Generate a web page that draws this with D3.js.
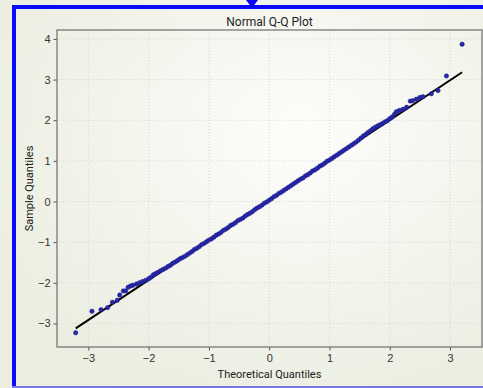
<!DOCTYPE html>
<html>
<head>
<meta charset="utf-8">
<style>
body { margin: 0; padding: 0; overflow: hidden; }
svg { display: block; font-family: Roboto, "Noto Sans", sans-serif; }
.grid line { stroke: #d6d6d6; stroke-width: 1; stroke-dasharray: 1,2; }
.axis path { display: none; }
.axis line { stroke: #555; }
.axis text { fill: #333; font-size: 11px; }
</style>
</head>
<body>
<svg width="483" height="388"></svg>
<script src="https://d3js.org/d3.v7.min.js"></script>
<script>
// theoretical quantiles
var theoretical = [
  -3.21, -2.94, -2.79, -2.68, -2.60, -2.52, -2.48, -2.42, -2.38, -2.34, -2.30, -2.26, -2.20, -2.15, -2.10, -2.05,
  -2.00, -1.96, -1.92, -1.88, -1.84, -1.80, -1.76, -1.72, -1.68, -1.64, -1.60, -1.56, -1.52, -1.48, -1.44, -1.40,
  -1.36, -1.32, -1.28, -1.24, -1.20, -1.16, -1.12, -1.08, -1.04, -1.00, -0.96, -0.92, -0.88, -0.84, -0.80, -0.76,
  -0.72, -0.68, -0.64, -0.60, -0.56, -0.52, -0.48, -0.44, -0.40, -0.36, -0.32, -0.28, -0.24, -0.20, -0.16, -0.12,
  -0.08, -0.04, 0.00, 0.04, 0.08, 0.12, 0.16, 0.20, 0.24, 0.28, 0.32, 0.36, 0.40, 0.44, 0.48, 0.52,
  0.56, 0.60, 0.64, 0.68, 0.72, 0.76, 0.80, 0.84, 0.88, 0.92, 0.96, 1.00, 1.04, 1.08, 1.12, 1.16,
  1.20, 1.24, 1.28, 1.32, 1.36, 1.40, 1.44, 1.48, 1.52, 1.56, 1.60, 1.64, 1.68, 1.72, 1.76, 1.80,
  1.84, 1.88, 1.92, 1.96, 2.00, 2.04, 2.08, 2.11, 2.16, 2.22, 2.28, 2.34, 2.38, 2.44, 2.50, 2.55,
  2.69, 2.80, 2.94, 3.20
];
// sample quantiles, same order
var sample = [
  -3.23, -2.70, -2.66, -2.61, -2.48, -2.43, -2.30, -2.20, -2.20, -2.11, -2.08, -2.06, -2.03, -2.00, -1.97, -1.94,
  -1.90, -1.86, -1.80, -1.77, -1.74, -1.70, -1.67, -1.64, -1.60, -1.57, -1.52, -1.49, -1.45, -1.41, -1.38, -1.35,
  -1.31, -1.27, -1.23, -1.18, -1.15, -1.11, -1.06, -1.03, -0.99, -0.95, -0.92, -0.88, -0.83, -0.80, -0.76, -0.71,
  -0.68, -0.64, -0.59, -0.56, -0.52, -0.47, -0.44, -0.41, -0.36, -0.32, -0.29, -0.25, -0.20, -0.16, -0.13, -0.09,
  -0.04, -0.01, 0.03, 0.07, 0.12, 0.15, 0.20, 0.23, 0.27, 0.31, 0.35, 0.39, 0.43, 0.47, 0.51, 0.55,
  0.58, 0.63, 0.66, 0.70, 0.75, 0.78, 0.82, 0.87, 0.90, 0.94, 0.99, 1.02, 1.06, 1.10, 1.14, 1.18,
  1.22, 1.26, 1.30, 1.34, 1.38, 1.42, 1.46, 1.51, 1.56, 1.61, 1.65, 1.70, 1.74, 1.79, 1.83, 1.86,
  1.89, 1.92, 1.96, 1.99, 2.04, 2.08, 2.15, 2.21, 2.24, 2.27, 2.32, 2.47, 2.48, 2.52, 2.56, 2.58,
  2.65, 2.73, 3.09, 3.87
];
// fitted reference line endpoints
var lineX = [-3.21, 3.20];
var lineY = [-3.12, 3.18];
var xTicks = [-3, -2, -1, 0, 1, 2, 3];
var yTicks = [-3, -2, -1, 0, 1, 2, 3, 4];

var svg = d3.select("svg"),
    width = +svg.attr("width"),
    height = +svg.attr("height");

var m = {left: 57, top: 30, right: 482, bottom: 347};

// background
var defs = svg.append("defs");
var grad = defs.append("radialGradient").attr("id", "bg")
    .attr("cx", "62%").attr("cy", "35%").attr("r", "75%");
grad.append("stop").attr("offset", "0%").attr("stop-color", "#fdfdfb");
grad.append("stop").attr("offset", "100%").attr("stop-color", "#eaeddf");
svg.append("rect").attr("width", width).attr("height", height).attr("fill", "url(#bg)");

// blue frame
svg.append("rect").attr("x", 12).attr("y", 5).attr("width", 4).attr("height", 383).attr("fill", "#0a0aff");
svg.append("rect").attr("x", 12).attr("y", 5).attr("width", 471).attr("height", 4).attr("fill", "#0a0aff");
svg.append("rect").attr("x", 12).attr("y", 386).attr("width", 471).attr("height", 2).attr("fill", "#7878e6");
svg.append("path").attr("d", "M246,0 L258,0 L252,8 Z").attr("fill", "#0a0aff");

var x = d3.scaleLinear().domain([-3.52, 3.53]).range([m.left, m.right]);
var y = d3.scaleLinear().domain([-3.58, 4.22]).range([m.bottom, m.top]);

// grid
svg.append("g").attr("class", "grid")
  .selectAll("line.v").data(xTicks).enter().append("line")
    .attr("x1", d => x(d)).attr("x2", d => x(d))
    .attr("y1", m.top).attr("y2", m.bottom);
svg.append("g").attr("class", "grid")
  .selectAll("line.h").data(yTicks).enter().append("line")
    .attr("y1", d => y(d)).attr("y2", d => y(d))
    .attr("x1", m.left).attr("x2", m.right);

// axes
svg.append("g").attr("class", "axis")
    .attr("transform", "translate(0," + m.bottom + ")")
    .call(d3.axisBottom(x).tickValues(xTicks).tickFormat(d3.format("d")).tickSize(3.5).tickPadding(4));
svg.append("g").attr("class", "axis")
    .attr("transform", "translate(" + m.left + ",0)")
    .call(d3.axisLeft(y).tickValues(yTicks).tickFormat(d3.format("d")).tickSize(3.5).tickPadding(3));

// reference line
svg.append("line")
    .attr("x1", x(lineX[0])).attr("y1", y(lineY[0]))
    .attr("x2", x(lineX[1])).attr("y2", y(lineY[1]))
    .attr("stroke", "#000").attr("stroke-width", 2);

// points
svg.append("g").selectAll("circle")
  .data(theoretical.map((t, i) => [t, sample[i]]))
  .enter().append("circle")
    .attr("cx", d => x(d[0]))
    .attr("cy", d => y(d[1]))
    .attr("r", 2.2)
    .attr("fill", "#2626a8")
    .attr("stroke", "#1c1c88")
    .attr("stroke-width", 0.5);

// plot frame
svg.append("rect")
    .attr("x", m.left).attr("y", m.top)
    .attr("width", m.right - m.left).attr("height", m.bottom - m.top)
    .attr("fill", "none").attr("stroke", "#777").attr("stroke-width", 1.3);

// titles
svg.append("text").attr("x", (m.left + m.right) / 2).attr("y", 26)
    .attr("text-anchor", "middle").attr("font-size", 12).attr("fill", "#222")
    .text("Normal Q-Q Plot");
svg.append("text").attr("x", (m.left + m.right) / 2).attr("y", 378)
    .attr("text-anchor", "middle").attr("font-size", 11).attr("fill", "#222")
    .text("Theoretical Quantiles");
svg.append("text")
    .attr("transform", "translate(33," + (m.top + m.bottom) / 2 + ") rotate(-90)")
    .attr("text-anchor", "middle").attr("font-size", 11).attr("fill", "#222")
    .text("Sample Quantiles");
</script>
</body>
</html>
